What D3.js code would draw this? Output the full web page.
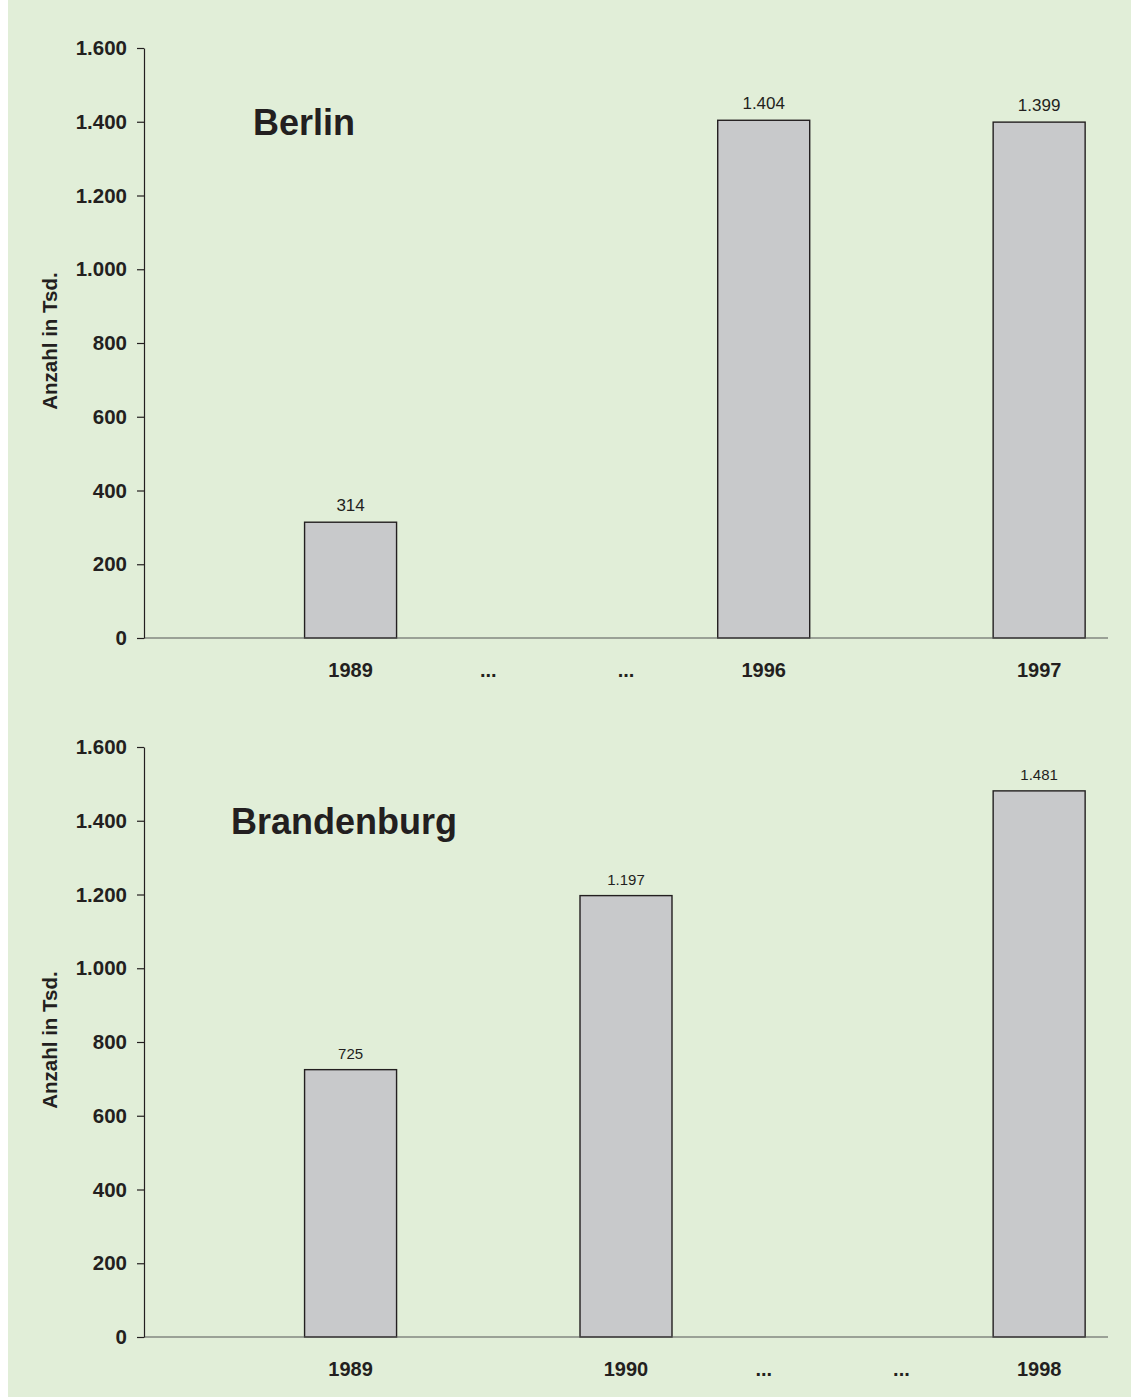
<!DOCTYPE html>
<html>
<head>
<meta charset="utf-8">
<script src="https://cdn.jsdelivr.net/npm/d3@7"></script>
<style>
  body { margin: 0; background: #fff; }
  svg { display: block; font-family: "Liberation Sans", Arial, sans-serif; }
  .tick text { font-weight: bold; font-size: 20.5px; fill: #231f20; }
  .year-label { font-weight: bold; font-size: 20px; fill: #231f20; text-anchor: middle; }
  .value-label { fill: #231f20; text-anchor: middle; }
  .panel-title { font-weight: bold; font-size: 36px; fill: #231f20; }
  .axis-title { font-weight: bold; font-size: 20.5px; fill: #231f20; text-anchor: middle; }
</style>
</head>
<body>
<svg width="1131" height="1397"></svg>
<script>
// chart data, one slot per category position on the x axis
const slots = [0, 1, 2, 3, 4, 5, 6];
const berlinLabels = ['', '1989', '...', '...', '1996', '', '1997'];
const berlinValues = [null, 314, null, null, 1404, null, 1399];
const brandenburgLabels = ['', '1989', '', '1990', '...', '...', '1998'];
const brandenburgValues = [null, 725, null, 1197, null, null, 1481];
const yTicks = [0, 200, 400, 600, 800, 1000, 1200, 1400, 1600];
const yTitle = 'Anzahl in Tsd.';

const svg = d3.select('svg');

// light green background, leaving a thin white strip on the left
svg.append('rect')
    .attr('x', 8).attr('y', 0)
    .attr('width', 1131 - 8).attr('height', 1397)
    .attr('fill', '#e1eed8');

// German number format: 1.600
const de = d3.formatLocale({ decimal: ',', thousands: '.', grouping: [3], currency: ['', ' €'] });
const fmt = de.format(',');

const plot = { l: 144, r: 1108, h: 590 };

const xScale = d3.scaleBand()
    .domain(slots)
    .range([plot.l, plot.r])
    .paddingInner(0.332)
    .paddingOuter(0.166);

function drawPanel(top, title, titleX, labels, values, valueSize) {
    const g = svg.append('g').attr('transform', `translate(0, ${top})`);

    const yScale = d3.scaleLinear()
        .domain([0, 1600])
        .range([plot.h, 0]);

    // bars
    const data = slots.map(i => ({ slot: i, label: labels[i], value: values[i] }))
        .filter(d => d.value !== null);

    g.selectAll('.bar')
        .data(data)
        .enter()
        .append('rect')
        .attr('class', 'bar')
        .attr('x', d => xScale(d.slot))
        .attr('y', d => yScale(d.value))
        .attr('width', xScale.bandwidth())
        .attr('height', d => yScale(0) - yScale(d.value))
        .attr('fill', '#c8c9cb')
        .attr('stroke', '#231f20')
        .attr('stroke-width', 1.4);

    // value labels above bars
    g.selectAll('.value-label')
        .data(data)
        .enter()
        .append('text')
        .attr('class', 'value-label')
        .attr('x', d => xScale(d.slot) + xScale.bandwidth() / 2)
        .attr('y', d => yScale(d.value) - 11)
        .style('font-size', valueSize + 'px')
        .text(d => fmt(d.value));

    // x baseline
    g.append('line')
        .attr('x1', plot.l).attr('x2', plot.r)
        .attr('y1', yScale(0)).attr('y2', yScale(0))
        .attr('stroke', '#555')
        .attr('stroke-width', 1.2);

    // year labels
    g.selectAll('.year-label')
        .data(slots.filter(i => labels[i] !== ''))
        .enter()
        .append('text')
        .attr('class', 'year-label')
        .attr('x', i => xScale(i) + xScale.bandwidth() / 2)
        .attr('y', yScale(0) + 39)
        .text(i => labels[i]);

    // y axis
    const yAxis = g.append('g')
        .attr('transform', `translate(${plot.l}, 0)`)
        .call(d3.axisLeft(yScale).tickValues(yTicks).tickFormat(fmt).tickSize(7).tickSizeOuter(0).tickPadding(10));
    yAxis.select('.domain').attr('stroke', '#231f20').attr('stroke-width', 1.2);
    yAxis.selectAll('.tick line').attr('stroke', '#231f20').attr('stroke-width', 1.2);
    yAxis.attr('font-size', null).attr('font-family', null);

    // y axis title
    g.append('text')
        .attr('class', 'axis-title')
        .attr('transform', `translate(57, ${plot.h / 2 - 2}) rotate(-90)`)
        .text(yTitle);

    // panel title
    g.append('text')
        .attr('class', 'panel-title')
        .attr('x', titleX)
        .attr('y', 87)
        .text(title);
}

drawPanel(48, 'Berlin', 253, berlinLabels, berlinValues, 17);
drawPanel(747, 'Brandenburg', 231, brandenburgLabels, brandenburgValues, 15);
</script>
</body>
</html>
